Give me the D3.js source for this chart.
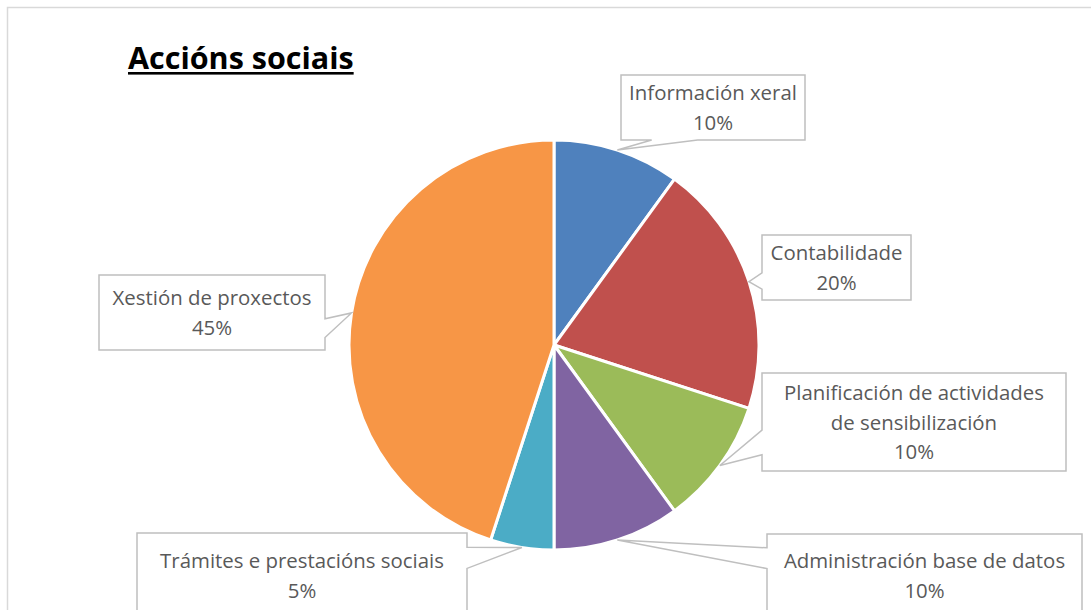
<!DOCTYPE html>
<html>
<head>
<meta charset="utf-8">
<script src="https://cdn.jsdelivr.net/npm/d3@7"></script>
<style>
  html, body { margin: 0; padding: 0; background: #fff; }
  svg { display: block; }
</style>
</head>
<body>
<svg id="chart" width="1091" height="610"></svg>
<script>
// Share of social actions by area (percent)
const categories = [
  "Información xeral",
  "Contabilidade",
  "Planificación de actividades\nde sensibilización",
  "Administración base de datos",
  "Trámites e prestacións sociais",
  "Xestión de proxectos"
];
const values = [10, 20, 10, 10, 5, 45];
const colors = ["#4F81BD", "#C0504D", "#9BBB59", "#8064A2", "#4BACC6", "#F79646"];
const title = "Accións sociais";

// Callout box placement for each slice label
const calloutBoxes = [
  { x: 621, y: 75,  w: 184, h: 65 },
  { x: 762, y: 235, w: 149, h: 65 },
  { x: 762, y: 373, w: 304, h: 98 },
  { x: 767, y: 534, w: 315, h: 83 },
  { x: 137, y: 533, w: 330, h: 85 },
  { x: 99,  y: 275, w: 226, h: 75 }
];

const W = 1091, H = 610;
const cx = 554, cy = 345, R = 205;
const FONT = "'Open Sans', 'Noto Sans', sans-serif";

const svg = d3.select("#chart");

// chart area frame
svg.append("rect")
  .attr("x", 7.5).attr("y", 7.5)
  .attr("width", W + 20).attr("height", H + 20)
  .attr("fill", "#fff")
  .attr("stroke", "#d9d9d9").attr("stroke-width", 1.5);

// title with underline
const titleText = svg.append("text")
  .attr("x", 128).attr("y", 68.5)
  .attr("font-family", FONT)
  .attr("font-weight", "bold")
  .attr("font-size", 30.5)
  .attr("fill", "#000")
  .text(title);
const tb = titleText.node().getBBox();
svg.append("rect")
  .attr("x", tb.x).attr("y", 72)
  .attr("width", tb.width).attr("height", 2.6)
  .attr("fill", "#000");

// pie
const pie = d3.pie().sort(null).value(d => d);
const arcs = pie(values);
const arc = d3.arc().innerRadius(0).outerRadius(R);

const g = svg.append("g").attr("transform", `translate(${cx},${cy})`);
g.selectAll("path.slice")
  .data(arcs)
  .join("path")
  .attr("class", "slice")
  .attr("d", arc)
  .attr("fill", (d, i) => colors[i])
  .attr("stroke", "#fff")
  .attr("stroke-width", 3)
  .attr("stroke-linejoin", "round");

// callout path: rectangle with a wedge pointing at (tx, ty)
function calloutPath(b, tx, ty) {
  const x0 = b.x, y0 = b.y, x1 = b.x + b.w, y1 = b.y + b.h;
  const hx = b.x + b.w / 2, vy = b.y + b.h / 2;
  const dx = (tx - hx) / b.w, dy = (ty - vy) / b.h;
  const p = d3.path();
  if (Math.abs(dy) > Math.abs(dx)) {
    // wedge on top or bottom edge
    const a = tx < hx ? x0 + b.w / 6 : x0 + b.w * 7 / 12;
    const c = tx < hx ? x0 + b.w * 5 / 12 : x0 + b.w * 5 / 6;
    if (dy > 0) {
      p.moveTo(x0, y0); p.lineTo(x1, y0); p.lineTo(x1, y1);
      p.lineTo(c, y1); p.lineTo(tx, ty); p.lineTo(a, y1);
      p.lineTo(x0, y1); p.closePath();
    } else {
      p.moveTo(x0, y0); p.lineTo(a, y0); p.lineTo(tx, ty); p.lineTo(c, y0);
      p.lineTo(x1, y0); p.lineTo(x1, y1); p.lineTo(x0, y1); p.closePath();
    }
  } else {
    // wedge on left or right edge
    const a = ty < vy ? y0 + b.h / 6 : y0 + b.h * 7 / 12;
    const c = ty < vy ? y0 + b.h * 5 / 12 : y0 + b.h * 5 / 6;
    if (dx < 0) {
      p.moveTo(x0, y0); p.lineTo(x1, y0); p.lineTo(x1, y1); p.lineTo(x0, y1);
      p.lineTo(x0, c); p.lineTo(tx, ty); p.lineTo(x0, a); p.closePath();
    } else {
      p.moveTo(x0, y0); p.lineTo(x1, y0); p.lineTo(x1, a); p.lineTo(tx, ty);
      p.lineTo(x1, c); p.lineTo(x1, y1); p.lineTo(x0, y1); p.closePath();
    }
  }
  return p.toString();
}

const lineH = 29.5;
const labels = svg.append("g");
arcs.forEach((d, i) => {
  const b = calloutBoxes[i];
  const mid = (d.startAngle + d.endAngle) / 2;
  const tx = cx + R * Math.sin(mid);
  const ty = cy - R * Math.cos(mid);
  labels.append("path")
    .attr("d", calloutPath(b, tx, ty))
    .attr("fill", "#fff")
    .attr("stroke", "#bfbfbf")
    .attr("stroke-width", 1.5);

  const lines = categories[i].split("\n").concat([values[i] + "%"]);
  const vc = b.y + b.h / 2;
  const first = vc + 7.5 - (lines.length - 1) * lineH / 2;
  const t = labels.append("text")
    .attr("font-family", FONT)
    .attr("font-size", 20.4)
    .attr("fill", "#595959")
    .attr("text-anchor", "middle");
  lines.forEach((ln, k) => {
    t.append("tspan")
      .attr("x", b.x + b.w / 2)
      .attr("y", first + k * lineH)
      .text(ln);
  });
});
</script>
</body>
</html>
